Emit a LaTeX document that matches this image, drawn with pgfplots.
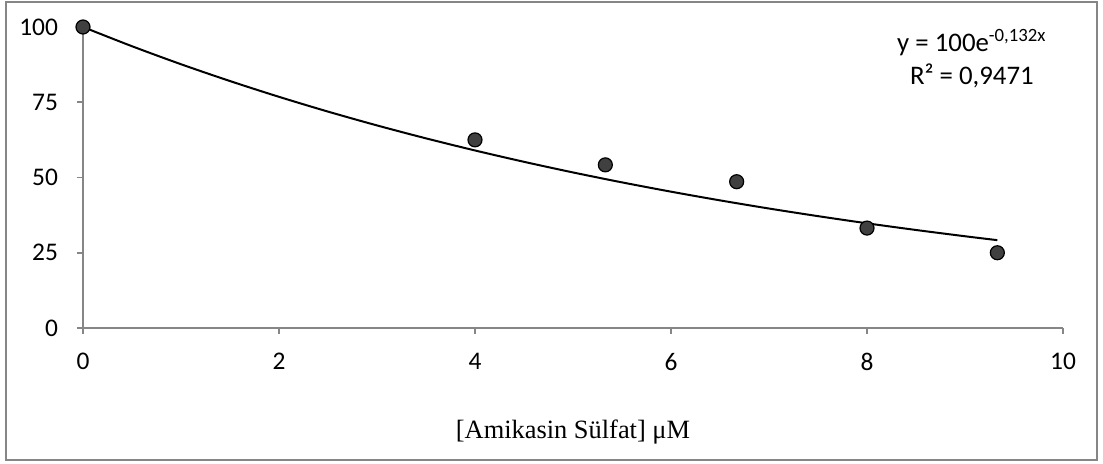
\documentclass[border=0pt]{standalone}
\usepackage{fontspec}
\setmainfont{Carlito}
\newfontfamily\timesfont{Liberation Serif}
\usepackage{pgfplots}
\pgfplotsset{compat=1.18}
\definecolor{axisgray}{HTML}{868686}
\definecolor{dotfill}{HTML}{404040}

\begin{document}
\begin{tikzpicture}
\begin{axis}[
    scale only axis,
    width=490pt, height=150.5pt,
    xmin=0, xmax=10,
    ymin=0, ymax=100,
    xtick={0,2,4,6,8,10},
    ytick={0,25,50,75,100},
    axis lines*=left,
    axis line style={axisgray, line width=0.8pt},
    tick style={axisgray, line width=0.8pt},
    tick align=outside,
    major tick length=3pt,
    /pgf/number format/assume math mode=true,
    ticklabel style={font=\fontsize{12.7}{14}\selectfont},
    xticklabel style={yshift=-6pt},
    yticklabel style={xshift=-6pt},
    xlabel={\timesfont [Amikasin Sülfat] μM},
    xlabel style={at={(axis description cs:0.5,0)}, anchor=center, yshift=-52pt, font=\fontsize{13.2}{15}\selectfont},
    clip=false,
]
% fitted trend line y = 100 e^{-0.132 x}
\addplot[black, line width=1pt, smooth] coordinates {
  (0,100) (0.5,93.61) (1,87.63) (1.5,82.04) (2,76.80) (2.5,71.89)
  (3,67.30) (3.5,63.00) (4,58.98) (4.5,55.21) (5,51.68) (5.5,48.38)
  (6,45.29) (6.5,42.40) (7,39.69) (7.5,37.16) (8,34.78) (8.5,32.56)
  (9,30.48) (9.33,29.18)
};
% measured points
\addplot[only marks, mark=*, mark size=3.5pt,
  mark options={fill=dotfill, draw=black, line width=0.6pt}] coordinates {
  (0,100) (4,62.5) (5.33,54.2) (6.67,48.6) (8,33.2) (9.33,25.0)
};
\node[align=center, font=\fontsize{13.4}{16.5}\selectfont] at (axis cs:9.07,89.5)
  {y = 100e\textsuperscript{-0,132x}\\R² = 0,9471};
\end{axis}
\draw[axisgray, line width=0.8pt] (-38.5pt,-66pt) rectangle (507pt,163pt);
\path (-41.5pt,-68pt) rectangle (510pt,164pt);
\end{tikzpicture}
\end{document}
